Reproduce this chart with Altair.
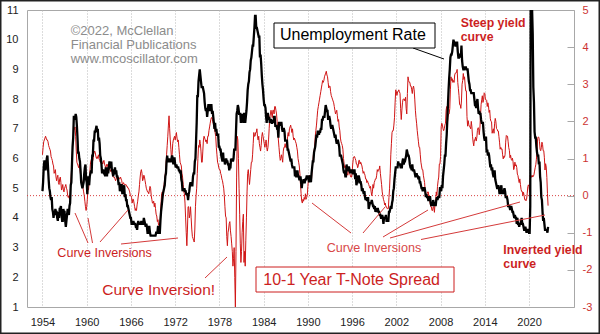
import altair as alt
import pandas as pd

FONT = "Liberation Sans"

# ---------------- data: monthly US unemployment rate (%) ----------------
unemp_1950s = [4.9,5.2,5.7,5.9,5.9,5.6,5.8,6.0,6.1,5.7,5.3,5.0,
               4.9,4.7,4.6,4.7,4.3,4.2,4.0,4.2,4.1,4.3,4.2,4.2,
               4.0,3.9,4.2,4.0,4.3,4.3,4.4,4.1,3.9,3.9,4.3,4.2,
               4.2,3.9,3.7,3.9,4.1,4.3,4.2,4.1,4.4,4.5,5.1,5.2,
               5.8,6.4,6.7,7.4,7.4,7.3,7.5,7.4,7.1,6.7,6.2,6.2,
               6.0,5.9,5.6,5.2,5.1,5.0,5.1,5.2,5.5,5.7,5.8,5.3]
unemp_1960s = [5.2,4.8,5.4,5.2,5.1,5.4,5.5,5.6,5.5,6.1,6.1,6.6,
               6.6,6.9,6.9,7.0,7.1,6.9,7.0,6.6,6.7,6.5,6.1,6.0,
               5.8,5.5,5.6,5.6,5.5,5.5,5.4,5.7,5.6,5.4,5.7,5.5,
               5.7,5.9,5.7,5.7,5.9,5.6,5.6,5.4,5.5,5.5,5.7,5.5,
               5.6,5.4,5.4,5.3,5.1,5.2,4.9,5.0,5.1,5.1,4.8,5.0,
               4.9,5.1,4.7,4.8,4.6,4.6,4.4,4.4,4.3,4.2,4.1,4.0,
               4.0,3.8,3.8,3.8,3.9,3.8,3.8,3.8,3.7,3.7,3.6,3.8,
               3.9,3.8,3.8,3.8,3.8,3.9,3.8,3.8,3.8,4.0,3.9,3.8,
               3.7,3.8,3.7,3.5,3.5,3.7,3.7,3.5,3.4,3.4,3.4,3.4,
               3.4,3.4,3.4,3.4,3.4,3.5,3.5,3.5,3.7,3.7,3.5,3.5]
unemp_1970s = [3.9,4.2,4.4,4.6,4.8,4.9,5.0,5.1,5.4,5.5,5.9,6.1,
               5.9,5.9,6.0,5.9,5.9,5.9,6.0,6.1,6.0,5.8,6.0,6.0,
               5.8,5.7,5.8,5.7,5.7,5.7,5.6,5.6,5.5,5.6,5.3,5.2,
               4.9,5.0,4.9,5.0,4.9,4.9,4.8,4.8,4.8,4.6,4.8,4.9,
               5.1,5.2,5.1,5.1,5.1,5.4,5.5,5.5,5.9,6.0,6.6,7.2,
               8.1,8.1,8.6,8.8,9.0,8.8,8.6,8.4,8.4,8.4,8.3,8.2,
               7.9,7.7,7.6,7.7,7.4,7.6,7.8,7.8,7.6,7.7,7.8,7.8,
               7.5,7.6,7.4,7.2,7.0,7.2,6.9,7.0,6.8,6.8,6.8,6.4,
               6.4,6.3,6.3,6.1,6.0,5.9,6.2,5.9,6.0,5.8,5.9,6.0,
               5.9,5.9,5.8,5.8,5.6,5.7,5.7,6.0,5.9,6.0,5.9,6.0]
unemp_1980s = [6.3,6.3,6.3,6.9,7.5,7.6,7.8,7.7,7.5,7.5,7.5,7.2,
               7.5,7.4,7.4,7.2,7.5,7.5,7.2,7.4,7.6,7.9,8.3,8.5,
               8.6,8.9,9.0,9.3,9.4,9.6,9.8,9.8,10.1,10.4,10.8,10.8,
               10.4,10.4,10.3,10.2,10.1,10.1,9.4,9.5,9.2,8.8,8.5,8.3,
               8.0,7.8,7.8,7.7,7.4,7.2,7.5,7.5,7.3,7.4,7.2,7.3,
               7.3,7.2,7.2,7.3,7.2,7.4,7.4,7.1,7.1,7.1,7.0,7.0,
               6.7,7.2,7.2,7.1,7.2,7.2,7.0,6.9,7.0,7.0,6.9,6.6,
               6.6,6.6,6.6,6.3,6.3,6.2,6.1,6.0,5.9,6.0,5.8,5.7,
               5.7,5.7,5.7,5.4,5.6,5.4,5.4,5.6,5.4,5.4,5.3,5.3,
               5.4,5.2,5.0,5.2,5.2,5.3,5.2,5.2,5.3,5.3,5.4,5.4]
unemp_1990s = [5.4,5.3,5.2,5.4,5.4,5.2,5.5,5.7,5.9,5.9,6.2,6.3,
               6.4,6.6,6.8,6.7,6.9,6.9,6.8,6.9,6.9,7.0,7.0,7.3,
               7.3,7.4,7.4,7.4,7.6,7.8,7.7,7.6,7.6,7.3,7.4,7.4,
               7.3,7.1,7.0,7.1,7.1,7.0,6.9,6.8,6.7,6.8,6.6,6.5,
               6.6,6.6,6.5,6.4,6.1,6.1,6.1,6.0,5.9,5.8,5.6,5.5,
               5.6,5.4,5.4,5.8,5.6,5.6,5.7,5.7,5.6,5.5,5.6,5.6,
               5.6,5.5,5.5,5.6,5.6,5.3,5.5,5.1,5.2,5.2,5.4,5.4,
               5.3,5.2,5.2,5.1,4.9,5.0,4.9,4.8,4.9,4.7,4.6,4.7,
               4.6,4.6,4.7,4.3,4.4,4.5,4.5,4.5,4.6,4.5,4.4,4.4,
               4.3,4.4,4.2,4.3,4.2,4.3,4.3,4.2,4.2,4.1,4.1,4.0]
unemp_2000s = [4.0,4.1,4.0,3.8,4.0,4.0,4.0,4.1,3.9,3.9,3.9,3.9,
               4.2,4.2,4.3,4.4,4.3,4.5,4.6,4.9,5.0,5.3,5.5,5.7,
               5.7,5.7,5.7,5.9,5.8,5.8,5.8,5.7,5.7,5.7,5.9,6.0,
               5.8,5.9,5.9,6.0,6.1,6.3,6.2,6.1,6.1,6.0,5.8,5.7,
               5.7,5.6,5.8,5.6,5.6,5.6,5.5,5.4,5.4,5.5,5.4,5.4,
               5.3,5.4,5.2,5.2,5.1,5.0,5.0,4.9,5.0,5.0,5.0,4.9,
               4.7,4.8,4.7,4.7,4.6,4.6,4.7,4.7,4.5,4.4,4.5,4.4,
               4.6,4.5,4.4,4.5,4.4,4.6,4.7,4.6,4.7,4.7,4.7,5.0,
               5.0,4.9,5.1,5.0,5.4,5.6,5.8,6.1,6.1,6.5,6.8,7.3,
               7.8,8.3,8.7,9.0,9.4,9.5,9.5,9.6,9.8,10.0,9.9,9.9]
unemp_2010s = [9.8,9.8,9.9,9.9,9.6,9.4,9.4,9.5,9.5,9.4,9.8,9.3,
               9.1,9.0,9.0,9.1,9.0,9.1,9.0,9.0,9.0,8.8,8.6,8.5,
               8.3,8.3,8.2,8.2,8.2,8.2,8.2,8.0,7.8,7.8,7.7,7.9,
               8.0,7.7,7.5,7.6,7.5,7.5,7.3,7.2,7.2,7.2,6.9,6.7,
               6.6,6.7,6.7,6.2,6.3,6.1,6.2,6.1,5.9,5.7,5.8,5.6,
               5.7,5.5,5.4,5.4,5.6,5.3,5.2,5.1,5.0,5.0,5.1,5.0,
               4.8,4.9,5.0,5.1,4.8,4.9,4.8,4.9,5.0,4.9,4.7,4.7,
               4.7,4.6,4.4,4.4,4.4,4.3,4.3,4.4,4.3,4.2,4.2,4.1,
               4.0,4.1,4.0,4.0,3.8,4.0,3.8,3.8,3.7,3.8,3.8,3.9,
               4.0,3.8,3.8,3.7,3.6,3.6,3.7,3.6,3.5,3.6,3.6,3.6]
unemp_2020s = [3.5,3.5,4.4,14.7,13.2,11.0,10.2,8.4,7.9,6.9,6.7,6.7,
               6.4,6.2,6.1,6.1,5.8,5.9,5.4,5.2,4.7,4.6,4.2,3.9,
               4.0,3.8,3.6,3.6,3.6,3.6,3.5,3.7]

# ---------------- data: monthly 10-yr minus 1-yr T-note spread (pct pts) ----------------
spread_1950s = [1.1,1.3,1.45,1.5,1.55,1.6,1.55,1.5,1.5,1.45,1.35,1.3,
                1.25,1.2,1.05,1.0,0.95,0.85,0.8,0.6,0.65,0.7,0.5,0.4,
                0.5,0.55,0.35,0.3,0.45,0.5,0.35,0.15,0.2,0.3,0.15,0.1,
                0.2,0.25,0.3,0.2,0.15,0.0,-0.05,0.0,-0.1,0.05,0.3,0.6,
                0.9,1.3,1.5,1.75,1.8,1.85,1.6,1.2,0.9,0.85,0.8,0.75,
                0.85,0.7,0.55,0.45,0.4,0.35,0.2,0.1,0.0,-0.15,-0.3,-0.4]
spread_1960s = [-0.3,-0.1,0.2,0.15,0.35,0.6,0.85,0.95,1.0,1.0,0.95,1.1,
                1.15,1.2,1.15,1.05,1.0,1.05,1.0,1.1,1.0,0.95,0.9,0.9,
                0.95,0.9,0.85,0.9,0.95,0.85,0.8,0.75,0.8,0.85,0.8,0.75,
                0.7,0.75,0.7,0.65,0.7,0.65,0.55,0.5,0.5,0.5,0.45,0.4,
                0.45,0.5,0.5,0.45,0.5,0.45,0.45,0.5,0.45,0.4,0.3,0.3,
                0.35,0.3,0.3,0.3,0.3,0.25,0.25,0.2,0.2,0.15,0.1,0.0,
                0.0,-0.05,-0.2,-0.1,-0.1,-0.2,-0.3,-0.4,-0.35,-0.4,-0.25,-0.15,
                0.0,0.1,0.3,0.5,0.65,0.7,0.6,0.4,0.45,0.55,0.5,0.4,
                0.3,0.2,0.15,0.1,0.1,0.05,0.15,0.25,0.2,0.0,-0.1,-0.2,
                -0.2,-0.15,-0.3,-0.2,-0.35,-0.5,-0.55,-0.7,-0.65,-0.8,-0.75,-0.85]
spread_1970s = [-0.5,-0.2,0.05,0.1,0.0,0.2,0.3,0.45,0.6,0.8,1.1,1.35,
                1.6,1.9,2.15,1.8,1.5,1.25,1.0,1.1,1.4,1.5,1.55,1.6,
                1.5,1.6,1.7,1.55,1.45,1.5,1.3,1.1,0.9,0.85,0.8,0.6,
                0.5,0.3,0.1,0.05,-0.2,-0.6,-1.0,-1.35,-0.9,-0.3,-0.3,-0.6,
                -0.5,-0.3,-0.6,-0.9,-1.1,-1.15,-1.2,-1.25,-0.9,-0.3,0.0,0.2,
                0.6,1.0,1.35,1.3,1.5,1.4,1.2,0.9,0.9,1.2,1.5,1.6,
                1.55,1.5,1.45,1.5,1.4,1.6,1.6,1.75,1.85,1.95,2.05,2.1,
                2.1,2.0,1.95,1.85,1.8,1.7,1.6,1.3,1.1,0.9,0.85,0.75,
                0.7,0.7,0.6,0.55,0.45,0.4,0.3,0.2,0.0,-0.3,-0.55,-0.6,
                -1.1,-1.35,-1.0,-0.9,-0.75,-0.7,-0.95,-1.1,-1.3,-1.5,-1.9,-1.7]
spread_1980s = [-1.4,-2.2,-3.0,-1.5,0.5,1.6,1.5,1.0,0.2,-0.5,-1.3,-1.8,
                -1.5,-1.0,-0.7,-0.5,-1.8,-1.5,-1.9,-1.2,-0.6,0.1,0.6,0.7,
                0.5,0.3,0.5,0.7,0.9,0.9,1.1,1.4,1.7,1.6,1.6,1.7,
                1.7,1.8,1.6,1.5,1.6,1.4,1.3,1.2,1.35,1.6,1.7,1.6,
                1.5,1.4,1.3,1.4,1.5,1.3,1.2,1.3,1.5,1.8,2.1,2.2,
                2.3,2.2,2.1,2.3,2.3,2.2,2.4,2.4,2.3,2.2,2.0,1.8,
                1.5,1.3,1.1,0.95,1.0,1.1,1.0,0.9,1.2,1.3,1.3,1.4,
                1.3,1.3,1.3,1.6,1.7,1.6,1.8,1.85,1.9,1.8,1.7,1.8,
                1.6,1.5,1.55,1.5,1.45,1.4,1.3,1.2,1.0,0.9,0.8,0.6,
                0.3,0.05,-0.15,-0.2,-0.1,-0.15,-0.05,-0.1,0.05,-0.1,-0.05,0.0]
spread_1990s = [0.25,0.45,0.5,0.55,0.5,0.4,0.45,0.75,0.9,1.1,1.2,1.3,
                1.6,1.75,1.9,2.1,2.3,2.4,2.5,2.6,2.7,2.8,2.9,3.0,
                3.1,3.05,3.1,3.2,3.25,3.3,3.35,3.25,3.2,3.05,2.9,2.95,
                2.95,2.8,2.7,2.65,2.6,2.55,2.5,2.4,2.3,2.2,2.25,2.3,
                2.15,2.0,2.05,1.85,1.75,1.55,1.45,1.4,1.35,1.25,1.0,0.85,
                0.75,0.8,0.7,0.7,0.6,0.55,0.65,0.7,0.6,0.55,0.5,0.5,
                0.6,0.85,1.0,1.05,1.05,1.0,0.95,0.85,0.85,0.75,0.8,0.95,
                0.95,0.85,0.9,0.85,0.8,0.7,0.6,0.65,0.6,0.55,0.45,0.45,
                0.35,0.4,0.35,0.3,0.25,0.2,0.25,0.1,0.0,0.1,0.3,0.2,
                0.35,0.4,0.45,0.45,0.55,0.7,0.65,0.7,0.7,0.8,0.6,0.45]
spread_2000s = [0.3,0.1,0.0,-0.1,-0.15,-0.25,-0.2,-0.3,-0.3,-0.35,-0.35,-0.35,
                -0.05,0.2,0.6,1.1,1.4,1.7,1.75,1.75,1.9,2.1,2.5,2.85,
                2.8,2.7,2.8,2.8,2.85,2.8,2.75,2.35,2.05,2.3,2.5,2.6,
                2.6,2.6,2.55,2.65,2.35,2.2,2.75,3.2,3.1,3.05,3.05,2.95,
                2.95,2.85,2.75,2.9,2.95,2.85,2.6,2.3,2.1,1.95,1.75,1.6,
                1.45,1.3,1.3,1.1,0.9,0.8,0.7,0.7,0.55,0.45,0.35,0.1,
                0.05,0.0,0.05,0.1,0.1,-0.05,-0.1,-0.2,-0.3,-0.3,-0.4,-0.4,
                -0.3,-0.3,-0.45,-0.2,-0.15,0.1,0.0,0.25,0.4,0.5,0.85,0.85,
                1.05,1.85,1.95,1.9,1.8,1.75,1.8,1.9,1.95,2.3,2.4,1.95,
                2.1,2.2,2.2,2.35,2.85,3.2,3.1,3.15,3.05,3.1,3.05,3.25]
spread_2010s = [3.3,3.3,3.33,3.4,3.05,2.88,2.7,2.45,2.45,2.35,2.55,3.0,
                3.1,3.29,3.13,3.2,2.98,2.82,2.82,2.13,1.87,2.02,1.91,1.86,
                1.85,1.8,2.0,1.85,1.6,1.44,1.34,1.5,1.5,1.58,1.47,1.56,
                1.76,1.83,1.82,1.64,1.81,2.15,2.46,2.58,2.69,2.51,2.58,2.77,
                2.75,2.59,2.59,2.57,2.4,2.5,2.42,2.24,2.3,2.07,2.0,1.99,
                1.68,1.76,1.8,1.68,1.95,2.08,2.0,1.81,1.79,1.74,1.74,1.59,
                1.44,1.25,1.3,1.25,1.26,1.1,0.99,1.06,1.03,1.1,1.44,1.62,
                1.6,1.6,1.45,1.29,1.22,1.02,1.09,0.98,0.95,1.01,0.91,0.7,
                0.75,0.9,0.8,0.83,0.76,0.58,0.54,0.43,0.35,0.45,0.3,0.17,
                0.11,0.11,0.0,0.09,0.0,-0.11,-0.1,-0.14,-0.1,0.05,0.24,0.29]
spread_2020s = [0.24,0.09,0.54,0.49,0.5,0.55,0.5,0.52,0.56,0.66,0.75,0.83,
                0.98,1.18,1.54,1.58,1.57,1.45,1.25,1.21,1.29,1.44,1.38,1.21,
                1.21,1.02,0.69,0.86,0.77,0.49,0.06,-0.27]

start_year = 1954
x_ticks = [1954, 1960, 1966, 1972, 1978, 1984, 1990, 1996, 2002, 2008, 2014, 2020]
left_ticks = [1, 2, 3, 4, 5, 6, 7, 8, 9, 10, 11]
right_ticks = [-3, -2, -1, 0, 1, 2, 3, 4, 5]

unemp = unemp_1950s + unemp_1960s + unemp_1970s + unemp_1980s + unemp_1990s + unemp_2000s + unemp_2010s + unemp_2020s
spread = spread_1950s + spread_1960s + spread_1970s + spread_1980s + spread_1990s + spread_2000s + spread_2010s + spread_2020s

df_u = pd.DataFrame({"t": [start_year + i / 12 for i in range(len(unemp))], "u": unemp})
df_s = pd.DataFrame({"t": [start_year + i / 12 for i in range(len(spread))], "s": spread})
df_zero = pd.DataFrame({"s": [0]})

# ---------------- layout constants ----------------
PL, PT = 27, 10          # plot origin in page pixels
W, H = 547, 297
RED = "#cc1f1f"

x_scale = alt.Scale(domain=[1951.9, 2026.1], nice=False, zero=False)
x_axis = alt.Axis(values=x_ticks, format="d", title=None, grid=True, gridDash=[1, 2],
                  gridColor="#b8b8b8", ticks=False, domain=False, labelPadding=9,
                  labelFontSize=11, labelColor="#222222", labelFont=FONT)

unemp_line = alt.Chart(df_u).mark_line(color="#000000", strokeWidth=2.3, clip=True).encode(
    x=alt.X("t:Q", scale=x_scale, axis=x_axis),
    y=alt.Y("u:Q", scale=alt.Scale(domain=[1, 11], nice=False, zero=False),
            axis=alt.Axis(values=left_ticks, orient="left", title=None, grid=False,
                          ticks=False, domain=False, labelPadding=9, labelFontSize=11,
                          labelColor="#222222", labelFont=FONT)),
)

s_scale = alt.Scale(domain=[-3, 5], nice=False, zero=False)
s_axis = alt.Axis(values=right_ticks, orient="right", title=None, grid=False,
                  ticks=True, tickSize=7, tickColor="#a8a8a8", offset=-7, domain=False,
                  labelPadding=8, labelFontSize=11, labelColor="#cc3333", labelFont=FONT,
                  labelExpr="'' + datum.value")

zero_rule = alt.Chart(df_zero).mark_rule(color="#d84040", strokeDash=[1, 2], strokeWidth=1).encode(
    y=alt.Y("s:Q", scale=s_scale, axis=s_axis)
)
spread_line = alt.Chart(df_s).mark_line(color="#d01515", strokeWidth=1, clip=True).encode(
    x=alt.X("t:Q", scale=x_scale, axis=x_axis),
    y=alt.Y("s:Q", scale=s_scale, axis=s_axis),
)
spread_layer = alt.layer(zero_rule, spread_line)

one = alt.Data(values=[{}])


def text(s, x, y, size, color, weight="normal"):
    return alt.Chart(one).mark_text(text=s, align="left", baseline="alphabetic", font=FONT,
                                    fontSize=size, color=color, fontWeight=weight).encode(
        x=alt.value(x - PL), y=alt.value(y - PT))


def line(x1, y1, x2, y2, color, width=1):
    return alt.Chart(one).mark_rule(color=color, strokeWidth=width).encode(
        x=alt.value(x1 - PL), y=alt.value(y1 - PT), x2=alt.value(x2 - PL), y2=alt.value(y2 - PT))


def box(x1, y1, x2, y2, stroke, width=1, fill="#ffffff", opacity=1):
    return alt.Chart(one).mark_rect(fill=fill, fillOpacity=opacity, stroke=stroke, strokeWidth=width).encode(
        x=alt.value(x1 - PL), y=alt.value(y1 - PT), x2=alt.value(x2 - PL), y2=alt.value(y2 - PT))


LR = "#d43a3a"
annotations = [
    text("©2022, McClellan", 70.7, 35, 13, "#8c8c8c"),
    text("Financial Publications", 70.7, 49, 13, "#8c8c8c"),
    text("www.mcoscillator.com", 70.7, 63, 13, "#8c8c8c"),
    line(413, 48, 444, 59, "#000000"),
    box(274, 23, 435, 48, "#000000"),
    text("Unemployment Rate", 280, 40, 16, "#000000"),
    text("Steep yield", 460.7, 27, 12.3, RED, "bold"),
    text("curve", 460.7, 41, 12.3, RED, "bold"),
    text("Inverted yield", 503.3, 254, 12.3, RED, "bold"),
    text("curve", 503.3, 268, 12.3, RED, "bold"),
    # leader lines, first group
    line(75, 213, 88, 243, LR),
    line(88, 218, 92.5, 243, LR),
    line(100, 242, 128, 210, LR),
    line(121, 244, 178, 238, LR),
    text("Curve Inversions", 57.3, 256.7, 12.6, RED),
    # second group
    line(312, 203, 351, 233, LR),
    line(363, 233, 385, 207, LR),
    line(383, 237, 428, 210, LR),
    line(390, 238, 520, 202, LR),
    line(421, 239.5, 545, 215, LR),
    text("Curve Inversions", 326.7, 252.3, 12.6, "#d84848"),
    line(205, 278, 227, 257, LR),
    text("Curve Inversion!", 102.3, 295, 15.5, RED),
    box(256, 267, 454, 292, RED),
    text("10-1 Year T-Note Spread", 263.3, 285, 16, RED),
    box(0.75, 0.75, 599.25, 333.25, "#222222", 1.5, "#ffffff", 0),
]

chart = alt.layer(spread_layer, unemp_line, *annotations).resolve_scale(y="independent").properties(
    width=W, height=H, autosize=alt.AutoSizeParams(type="none"),
    padding={"left": PL, "top": PT, "right": 600 - PL - W, "bottom": 334 - PT - H},
    background="#ffffff",
).configure_view(stroke="#a8a8a8", strokeWidth=1)

chart.save("out.html", embed_options={"renderer": "svg", "actions": False})
